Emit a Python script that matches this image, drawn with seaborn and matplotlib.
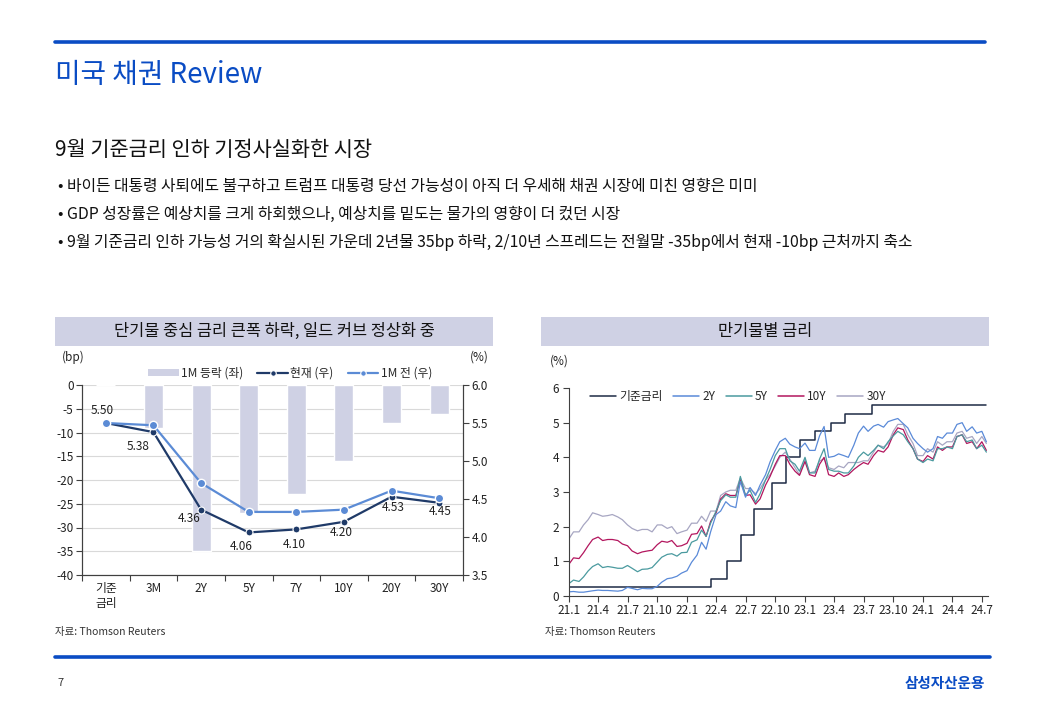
import numpy as np
import pandas as pd
import seaborn as sns
import matplotlib.pyplot as plt
from matplotlib.patches import Rectangle, Patch
from matplotlib.lines import Line2D

# --- Left chart: 1M change (bp) and yield curve (%) ---
tenors = ["기준\n금리", "3M", "2Y", "5Y", "7Y", "10Y", "20Y", "30Y"]
chg_1m = [0, -9, -35, -27, -23, -16, -8, -6]
rate_now = [5.50, 5.38, 4.36, 4.06, 4.10, 4.20, 4.53, 4.45]
rate_1m_ago = [5.50, 5.47, 4.71, 4.33, 4.33, 4.36, 4.61, 4.51]

# --- Right chart: policy rate steps and yields (1st / 15th of each month) ---
fed_dates = ["2021-01-01", "2022-03-17", "2022-05-05", "2022-06-16", "2022-07-28",
             "2022-09-22", "2022-11-03", "2022-12-15", "2023-02-02", "2023-03-23",
             "2023-05-04", "2023-07-27", "2024-07-15"]
fed_rate = [0.25, 0.50, 1.00, 1.75, 2.50, 3.25, 4.00, 4.50, 4.75, 5.00, 5.25, 5.50, 5.50]

yield_dates = pd.date_range("2021-01-01", "2024-07-15", freq="SMS")
y2 = [0.12, 0.13, 0.11, 0.11, 0.13, 0.15, 0.17, 0.16, 0.16, 0.15, 0.14, 0.16,
      0.25, 0.22, 0.18, 0.22, 0.21, 0.21, 0.28, 0.40, 0.50, 0.52, 0.57, 0.66,
      0.73, 0.97, 1.18, 1.55, 1.35, 1.85, 2.35, 2.45, 2.72, 2.60, 2.55, 3.30,
      2.85, 3.13, 2.90, 3.20, 3.50, 3.87, 4.20, 4.45, 4.55, 4.38, 4.30, 4.25,
      4.41, 4.20, 4.20, 4.62, 4.89, 4.00, 4.03, 4.10, 4.05, 4.00, 4.35, 4.70,
      4.90, 4.75, 4.90, 4.95, 4.87, 5.03, 5.08, 5.12, 4.97, 4.85, 4.55, 4.40,
      4.25, 4.15, 4.25, 4.60, 4.55, 4.70, 4.70, 4.95, 5.00, 4.75, 4.88, 4.70,
      4.75, 4.45]
y5 = [0.36, 0.46, 0.42, 0.55, 0.72, 0.85, 0.93, 0.82, 0.85, 0.83, 0.80, 0.80,
      0.88, 0.80, 0.70, 0.77, 0.78, 0.82, 0.98, 1.12, 1.20, 1.22, 1.15, 1.25,
      1.26, 1.55, 1.62, 1.90, 1.72, 2.10, 2.45, 2.75, 2.92, 2.85, 2.85, 3.45,
      2.90, 3.05, 2.70, 2.95, 3.35, 3.65, 4.05, 4.25, 4.25, 3.90, 3.80, 3.60,
      4.00, 3.55, 3.55, 3.95, 4.25, 3.65, 3.60, 3.60, 3.55, 3.55, 3.75, 4.00,
      4.15, 4.05, 4.20, 4.35, 4.25, 4.45, 4.62, 4.75, 4.65, 4.45, 4.25, 3.95,
      3.85, 3.95, 3.90, 4.25, 4.25, 4.30, 4.25, 4.60, 4.65, 4.45, 4.50, 4.25,
      4.35, 4.15]
y10 = [0.92, 1.10, 1.08, 1.25, 1.45, 1.63, 1.70, 1.60, 1.63, 1.63, 1.60, 1.50,
       1.45, 1.30, 1.22, 1.27, 1.30, 1.32, 1.48, 1.58, 1.55, 1.60, 1.43, 1.45,
       1.52, 1.78, 1.80, 2.02, 1.72, 2.15, 2.40, 2.80, 2.95, 2.90, 2.90, 3.35,
       2.90, 2.92, 2.65, 2.80, 3.20, 3.45, 3.80, 4.05, 4.05, 3.80, 3.60, 3.48,
       3.88, 3.50, 3.45, 3.80, 4.00, 3.50, 3.45, 3.55, 3.45, 3.50, 3.65, 3.75,
       3.85, 3.80, 4.05, 4.20, 4.15, 4.30, 4.65, 4.85, 4.80, 4.50, 4.25, 3.95,
       3.88, 4.05, 3.95, 4.30, 4.20, 4.30, 4.30, 4.60, 4.65, 4.40, 4.45, 4.25,
       4.45, 4.20]
y30 = [1.65, 1.85, 1.85, 2.05, 2.20, 2.40, 2.35, 2.30, 2.32, 2.35, 2.28, 2.20,
       2.05, 1.95, 1.88, 1.92, 1.92, 1.85, 2.05, 2.05, 1.95, 2.00, 1.80, 1.85,
       1.90, 2.10, 2.10, 2.30, 2.15, 2.45, 2.45, 2.90, 3.00, 3.05, 3.05, 3.40,
       3.10, 3.10, 2.95, 3.10, 3.35, 3.50, 3.75, 4.00, 4.15, 3.95, 3.70, 3.50,
       3.95, 3.55, 3.60, 3.90, 3.95, 3.70, 3.65, 3.75, 3.70, 3.85, 3.85, 3.85,
       3.90, 3.90, 4.15, 4.35, 4.30, 4.40, 4.75, 4.95, 4.95, 4.65, 4.40, 4.05,
       4.05, 4.25, 4.15, 4.45, 4.35, 4.45, 4.45, 4.70, 4.75, 4.55, 4.60, 4.40,
       4.60, 4.40]

bullets = [
    "• 바이든 대통령 사퇴에도 불구하고 트럼프 대통령 당선 가능성이 아직 더 우세해 채권 시장에 미친 영향은 미미",
    "• GDP 성장률은 예상치를 크게 하회했으나, 예상치를 밑도는 물가의 영향이 더 컸던 시장",
    "• 9월 기준금리 인하 가능성 거의 확실시된 가운데 2년물 35bp 하락, 2/10년 스프레드는 전월말 -35bp에서 현재 -10bp 근처까지 축소",
]

# --- Styling ---
sns.set_theme(style="white")
plt.rcParams['font.family'] = ['Noto Sans CJK KR', 'DejaVu Sans']
plt.rcParams['axes.unicode_minus'] = False

BLUE = "#0a4cc4"
HEADER = "#cfd1e4"
AXIS = "#404040"
W, H = 1040, 720


def fx(x):
    return x / W


def fy(y):
    return 1 - y / H


fig = plt.figure(figsize=(10.4, 7.2), dpi=100)

# page frame
fig.add_artist(Line2D([fx(55), fx(985)], [fy(42), fy(42)], color=BLUE, lw=2.6))
fig.add_artist(Line2D([fx(55), fx(990)], [fy(657), fy(657)], color=BLUE, lw=2.6))
fig.text(fx(55), fy(75), "미국 채권 Review", color=BLUE, fontsize=20, va="center")
fig.text(fx(55), fy(150), "9월 기준금리 인하 기정사실화한 시장", color="#111111", fontsize=15, va="center")
for i, line in enumerate(bullets):
    fig.text(fx(58), fy(187 + i * 27.5), line, color="#111111", fontsize=11.4, va="center")
fig.text(fx(57), fy(683), "7", color="#333333", fontsize=8, va="center")
fig.text(fx(985), fy(683), "삼성자산운용", color=BLUE, fontsize=10.5, fontweight="bold",
         va="center", ha="right")

# chart header boxes
for x0, x1, title in [(55, 493, "단기물 중심 금리 큰폭 하락, 일드 커브 정상화 중"),
                      (541, 989, "만기물별 금리")]:
    fig.add_artist(Rectangle((fx(x0), fy(346)), fx(x1 - x0), 29 / H,
                             transform=fig.transFigure, facecolor=HEADER, edgecolor="none"))
    fig.text(fx((x0 + x1) / 2), fy(331.5), title, ha="center", va="center",
             fontsize=11.8, color="#111111")

fig.text(fx(55), fy(632), "자료: Thomson Reuters", fontsize=7.5, color="#333333", va="center")
fig.text(fx(545), fy(632), "자료: Thomson Reuters", fontsize=7.5, color="#333333", va="center")

# --- Left chart ---
ax = fig.add_axes([fx(82), fy(575), fx(463 - 82), 190 / H])
pos = np.arange(len(tenors))
sns.barplot(x=tenors, y=chg_1m, color=HEADER, saturation=1, width=0.4,
            errorbar=None, ax=ax)
ax.set_ylim(-40, 0)
ax.set_yticks(range(-40, 1, 5))
ax.set_xlim(-0.5, len(tenors) - 0.5)
ax.set_xticks(pos, labels=tenors)
ax.set_xticks(np.arange(-0.5, len(tenors), 1), minor=True)
ax.yaxis.grid(True, color="#d9d9d9", lw=0.8)
ax.set_axisbelow(True)
ax.tick_params(axis="x", which="major", length=0, pad=5, labelsize=8.5, colors="#222222")
ax.tick_params(axis="x", which="minor", bottom=True, length=4, width=0.8, color=AXIS)
ax.tick_params(axis="y", left=True, length=4, width=0.8, color=AXIS, labelsize=8.5,
               labelcolor="#222222", pad=2)
ax.set_xlabel("")
ax.set_ylabel("")

ax2 = ax.twinx()
sns.lineplot(x=pos, y=rate_now, ax=ax2, color="#1f3a68", lw=1.6, marker="o",
             markersize=5, markeredgecolor="white", markeredgewidth=0.8)
sns.lineplot(x=pos, y=rate_1m_ago, ax=ax2, color="#5b8bd5", lw=1.6, marker="o",
             markersize=6, markeredgecolor="white", markeredgewidth=1)
ax2.set_ylim(3.5, 6.0)
ax2.set_yticks(np.arange(3.5, 6.01, 0.5))
ax2.yaxis.set_major_formatter(plt.FormatStrFormatter("%.1f"))
ax2.tick_params(axis="y", right=True, length=4, width=0.8, color=AXIS, labelsize=8.5,
                labelcolor="#222222", pad=2)
ax2.set_ylabel("")

label_offsets = [(-4, -13), (-15, 14), (-12, 9), (-8, 14), (-2, 15), (-3, 11), (2, 11), (1, 9)]
for i, (v, (dx, dy)) in enumerate(zip(rate_now, label_offsets)):
    ax2.annotate(f"{v:.2f}", (i, v), xytext=(dx, -dy), textcoords="offset pixels",
                 ha="center", va="center", fontsize=8.5, color="#222222")

for a in (ax, ax2):
    for side in ("left", "right", "bottom"):
        a.spines[side].set_color(AXIS)
        a.spines[side].set_linewidth(0.8)
    a.spines["top"].set_visible(False)

handles = [Patch(facecolor=HEADER, edgecolor="none"),
           Line2D([], [], color="#1f3a68", lw=1.6, marker="o", ms=4, mec="white", mew=0.8),
           Line2D([], [], color="#5b8bd5", lw=1.6, marker="o", ms=4, mec="white", mew=0.8)]
ax2.legend(handles, ["1M 등락 (좌)", "현재 (우)", "1M 전 (우)"], loc="center",
           bbox_to_anchor=(0.546, 1.063), ncol=3, frameon=False, fontsize=8.5,
           handlelength=2.6, handleheight=0.6, columnspacing=1.2, handletextpad=0.2)
fig.text(fx(62), fy(357), "(bp)", fontsize=8.5, va="center", color="#222222")
fig.text(fx(470), fy(357), "(%)", fontsize=8.5, va="center", color="#222222")

# --- Right chart ---
ax3 = fig.add_axes([fx(569), fy(596), fx(988 - 569), 208 / H])
sns.lineplot(x=pd.to_datetime(fed_dates), y=fed_rate, ax=ax3, color="#1e2b45", lw=1.1,
             drawstyle="steps-post")
yields = pd.DataFrame({"date": yield_dates, "2Y": y2, "5Y": y5, "10Y": y10, "30Y": y30})
long = yields.melt(id_vars="date", var_name="tenor", value_name="yield")
palette = {"2Y": "#5a8ad8", "5Y": "#4a9a9f", "10Y": "#b3165e", "30Y": "#a7a6c2"}
sns.lineplot(data=long, x="date", y="yield", hue="tenor", palette=palette, lw=0.9,
             ax=ax3, legend=False, hue_order=["30Y", "10Y", "5Y", "2Y"])
ax3.set_ylim(0, 6)
ax3.set_yticks(range(0, 7))
ax3.set_xlim(pd.Timestamp("2021-01-01"), pd.Timestamp("2024-07-20"))
tick_dates = pd.date_range("2021-01-01", "2024-07-01", freq="3MS")
ax3.set_xticks(tick_dates, labels=[f"{d.year % 100}.{d.month}" for d in tick_dates])
ax3.tick_params(axis="x", bottom=True, length=4, width=0.8, color=AXIS, labelsize=8.5,
                labelcolor="#222222", pad=2)
ax3.tick_params(axis="y", left=True, length=4, width=0.8, color=AXIS, labelsize=8.5,
                labelcolor="#222222", pad=3)
ax3.set_xlabel("")
ax3.set_ylabel("")
for side in ("left", "bottom"):
    ax3.spines[side].set_color(AXIS)
    ax3.spines[side].set_linewidth(0.8)
ax3.spines["top"].set_visible(False)
ax3.spines["right"].set_visible(False)

r_handles = [Line2D([], [], color="#1e2b45", lw=1.1)] + \
            [Line2D([], [], color=palette[k], lw=1.1) for k in ["2Y", "5Y", "10Y", "30Y"]]
ax3.legend(r_handles, ["기준금리", "2Y", "5Y", "10Y", "30Y"], loc="upper left",
           bbox_to_anchor=(0.025, 1.04), ncol=5, frameon=False, fontsize=8.5,
           handlelength=2.2, columnspacing=0.9, handletextpad=0.25)
fig.text(fx(550), fy(361), "(%)", fontsize=8.5, va="center", color="#222222")

plt.savefig("out.png", dpi=100)
